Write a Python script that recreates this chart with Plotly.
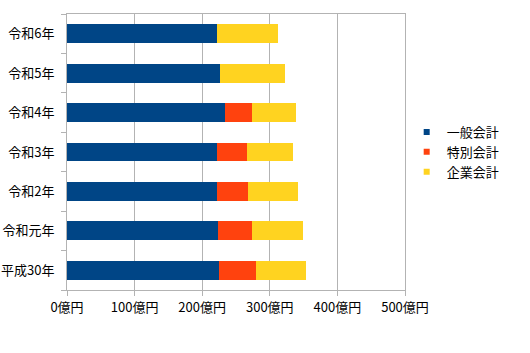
import plotly.graph_objects as go

categories = ["平成30年", "令和元年", "令和2年", "令和3年", "令和4年", "令和5年", "令和6年"]
general = [225, 224, 222, 222, 234, 227, 222]
special = [54, 49, 46, 44, 40, 0, 0]
enterprise = [75, 76, 74, 69, 65, 96, 90]
series_names = ["一般会計", "特別会計", "企業会計"]
colors = ["#004586", "#FF420E", "#FFD320"]
x_tickvals = [0, 100, 200, 300, 400, 500]
x_ticktext = ["0億円", "100億円", "200億円", "300億円", "400億円", "500億円"]

FONT = "Noto Sans CJK JP"
fig = go.Figure()
for name, vals, col in zip(series_names, [general, special, enterprise], colors):
    fig.add_trace(go.Bar(y=categories, x=vals, orientation="h", name=name,
                         marker=dict(color=col, line=dict(width=0)), showlegend=False))
for name, col in zip(series_names, colors):
    fig.add_trace(go.Scatter(x=[None], y=[None], mode="markers", name=name,
                             marker=dict(symbol="square", size=6, color=col)))

fig.update_layout(
    width=530, height=353,
    margin=dict(l=67, r=125, t=14, b=63),
    barmode="stack", bargap=0.52,
    paper_bgcolor="white", plot_bgcolor="white",
    font=dict(family=FONT, size=13, color="black"),
    legend=dict(x=1.005, xanchor="left", y=0.5, yanchor="middle",
                font=dict(size=13), itemwidth=30, tracegroupgap=0,
                traceorder="normal", bgcolor="rgba(0,0,0,0)"),
    xaxis=dict(range=[0, 500], tickvals=x_tickvals, ticktext=x_ticktext,
               showgrid=True, gridcolor="#b3b3b3", gridwidth=1,
               showline=True, linecolor="#b3b3b3", linewidth=1, mirror=True,
               ticks="outside", ticklen=5, tickcolor="#b3b3b3",
               zeroline=False, fixedrange=True, automargin=False),
    yaxis=dict(categoryorder="array", categoryarray=categories,
               showgrid=False, showline=True, linecolor="#b3b3b3", linewidth=1,
               mirror=True, ticks="outside", ticklen=5, tickcolor="#b3b3b3",
               tickson="boundaries", ticklabelstandoff=9, fixedrange=True,
               automargin=False),
)
fig.write_html("out.html")
